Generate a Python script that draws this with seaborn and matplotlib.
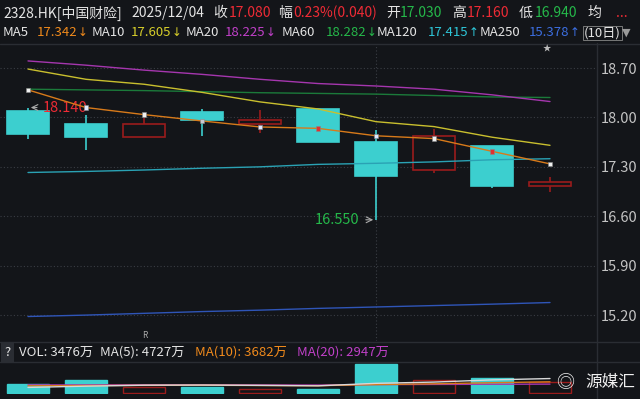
import seaborn as sns
import matplotlib.pyplot as plt
import pandas as pd

# daily candles, 10 days
days = list(range(10))
opens = [18.09, 17.90, 17.72, 18.07, 17.90, 18.115, 17.656, 17.255, 17.60, 17.03]
highs = [18.14, 18.03, 17.99, 18.115, 18.10, 18.12, 17.82, 17.83, 17.60, 17.16]
lows = [17.69, 17.54, 17.72, 17.73, 17.775, 17.65, 16.55, 17.21, 16.995, 16.94]
closes = [17.765, 17.72, 17.91, 17.96, 17.96, 17.656, 17.17, 17.74, 17.03, 17.08]

ma5 = [18.39, 18.14, 18.04, 17.95, 17.865, 17.845, 17.74, 17.70, 17.52, 17.342]
ma10 = [18.685, 18.54, 18.47, 18.355, 18.22, 18.12, 17.94, 17.87, 17.72, 17.605]
ma20 = [18.80, 18.74, 18.67, 18.61, 18.54, 18.48, 18.445, 18.40, 18.32, 18.225]
ma60 = [18.40, 18.39, 18.38, 18.365, 18.35, 18.34, 18.33, 18.31, 18.29, 18.282]
ma120 = [17.22, 17.235, 17.255, 17.28, 17.30, 17.335, 17.35, 17.37, 17.40, 17.415]
ma250 = [15.18, 15.20, 15.225, 15.25, 15.27, 15.295, 15.315, 15.335, 15.355, 15.378]
marker_cols = ["#f0f0f0", "#dfe8ff", "#f0f0f0", "#c8c8d0", "#dfe8ff",
               "#e03030", "#dfe8ff", "#f0f0f0", "#e03030", "#f0f0f0"]

# volume in 万
volume = [2940, 4300, 2000, 2000, 1360, 1500, 9500, 4200, 4800, 3476]
vol_ma5 = [1900, 2300, 2600, 2650, 2550, 2400, 3200, 3600, 4300, 4727]
vol_ma10 = [2400, 2500, 2550, 2600, 2500, 2450, 2800, 3050, 3400, 3682]
vol_ma20 = [2700, 2700, 2750, 2750, 2700, 2650, 2800, 2850, 2900, 2947]

price_ticks = [18.70, 18.00, 17.30, 16.60, 15.90, 15.20]

bg = "#131519"
cyan = "#3ccfcf"
dred = "#9a1c1c"
red = "#ee2b35"
green = "#25b84a"
white = "#e4e4e4"
grid = "#3a3d44"
sep = "#2a2d33"

sns.set_style("dark", {"axes.facecolor": bg, "figure.facecolor": bg})
plt.rcParams['font.family'] = ['Noto Sans CJK SC', 'DejaVu Sans']

fig = plt.figure(figsize=(6.4, 3.99), dpi=100, facecolor=bg)
W, H = 640, 399


def box(x0, y0, x1, y1):
    return [x0 / W, 1 - y1 / H, (x1 - x0) / W, (y1 - y0) / H]


def txt(x, y, s, color=white, size=10, **kw):
    fig.text(x / W, 1 - y / H, s, color=color, fontsize=size,
             va='center', ha='left', **kw)


ax = fig.add_axes(box(0, 45, 597, 341))
ax.set_facecolor(bg)
ax.set_xlim(-28 / 58, (597 - 28) / 58)
ax.set_ylim(18.70 - (341 - 68) / 70.6, 18.70 + (68 - 45) / 70.6)

# grid
for t in price_ticks:
    ax.axhline(t, color=grid, lw=0.8, ls=(0, (1, 2)), zorder=0)
ax.axvline(6, color=grid, lw=0.8, ls=(0, (1, 2)), zorder=0)

# candles
bw = 0.74
for i in days:
    o, h, l, c = opens[i], highs[i], lows[i], closes[i]
    up = c >= o
    col = dred if up else cyan
    top, bot = max(o, c), min(o, c)
    ax.vlines(i, top, h, color=col, lw=1.2, zorder=2)
    ax.vlines(i, l, bot, color=col, lw=1.2, zorder=2)
    ax.bar(i, max(top - bot, 0.02), bottom=bot, width=bw,
           facecolor=bg if up else cyan, edgecolor=col, lw=1.2, zorder=3)

# moving averages
for vals, col in [(ma250, "#2f55b8"), (ma120, "#2aa2b4"), (ma60, "#1b7a3a"),
                  (ma20, "#a536ae"), (ma10, "#c9bf2e"), (ma5, "#d87a1a")]:
    sns.lineplot(x=days, y=vals, color=col, lw=1.0, ax=ax, zorder=4)
ax.scatter(days, ma5, marker='s', s=10, c=marker_cols, edgecolors='#888888',
           linewidths=0.4, zorder=5)

# hi / lo annotations
ax.annotate("18.140", xy=(0.0, 18.14), xytext=(0.26, 18.14), color=red,
            fontsize=10.5, va='center', ha='left',
            arrowprops=dict(arrowstyle='->', color='#aaaaaa', lw=0.8))
ax.annotate("16.550", xy=(6, 16.55), xytext=(5.72, 16.55), color=green,
            fontsize=10.5, va='center', ha='right',
            arrowprops=dict(arrowstyle='->', color='#aaaaaa', lw=0.8))

ax.yaxis.tick_right()
ax.set_yticks(price_ticks)
ax.set_yticklabels([f"{t:.2f}" for t in price_ticks], color="#c4c4c4",
                   fontsize=10.5)
ax.tick_params(axis='y', length=0, pad=3)
ax.set_xticks([])
ax.set_xlabel("")
ax.set_ylabel("")
for s in ax.spines.values():
    s.set_visible(False)

# volume pane
vax = fig.add_axes(box(0, 362, 597, 394))
vax.set_facecolor(bg)
vax.set_xlim(-28 / 58, (597 - 28) / 58)
vax.set_ylim(-200, 10000)
for i in days:
    up = closes[i] >= opens[i]
    vax.bar(i, volume[i], width=bw, facecolor=bg if up else cyan,
            edgecolor=dred if up else cyan, lw=1.0, zorder=2)
for vals, col in [(vol_ma20, "#a536ae"), (vol_ma10, "#d87a1a"),
                  (vol_ma5, "#d8d8d8")]:
    sns.lineplot(x=days, y=vals, color=col, lw=1.0, ax=vax, zorder=3)
vax.set_xticks([])
vax.set_yticks([])
vax.set_xlabel("")
vax.set_ylabel("")
for s in vax.spines.values():
    s.set_visible(False)

# frame lines
for y in [44, 341.7, 362.3]:
    fig.add_artist(plt.Line2D([0, 1], [1 - y / H] * 2, color=sep, lw=1))
fig.add_artist(plt.Line2D([597 / W] * 2, [0, 1 - 43 / H], color=sep, lw=1))

# header row 1
txt(3, 13, "2328.HK[中国财险]")
txt(131, 13, "2025/12/04")
txt(213, 13, "收")
txt(229, 13, "17.080", red)
txt(278, 13, "幅")
txt(293, 13, "0.23%(0.040)", red)
txt(386, 13, "开")
txt(400, 13, "17.030", green)
txt(452, 13, "高")
txt(467, 13, "17.160", red)
txt(519, 13, "低")
txt(535, 13, "16.940", green)
txt(587, 13, "均")
txt(616, 13, "...", red)

# header row 2: name, value, arrow
row2 = [(3, "MA5", 37, "17.342", "↓", "#f08a1c"),
        (92, "MA10", 131, "17.605", "↓", "#d8cf2a"),
        (186, "MA20", 225, "18.225", "↓", "#c040c8"),
        (282, "MA60", 326, "18.282", "↓", green),
        (377, "MA120", 428, "17.415", "↑", "#2ec6d8"),
        (480, "MA250", 529, "15.378", "↑", "#3c6ee0")]
for nx, name, vx, val, arr, col in row2:
    txt(nx, 33, name, size=9.5)
    txt(vx, 33, val, col, size=9.5)
    fig.text((vx + 41) / W, 1 - 33 / H, arr, color=col, fontsize=8.5,
             va='center', ha='left', family='DejaVu Sans')
txt(584, 33, "(10日)", size=9.5,
    bbox=dict(boxstyle='square,pad=0.05', fc='none', ec='#888888', lw=0.6))
txt(622, 33, "▼", "#9a9a9a", size=8, family='DejaVu Sans')

txt(543, 49, "★", "#bbbbbb", size=6)
txt(142, 336, "R", "#aaaaaa", size=6)

# volume header
txt(4, 352, "?", size=9.5,
    bbox=dict(boxstyle='square,pad=0.25', fc='#2a2d33', ec='none'))
txt(19, 352, "VOL: 3476万", size=9.5)
txt(100, 352, "MA(5): 4727万", size=9.5)
txt(195, 352, "MA(10): 3682万", "#f08a1c", size=9.5)
txt(297, 352, "MA(20): 2947万", "#c040c8", size=9.5)

# watermark
txt(556, 383, "◎", "#f0f0f0", size=13)
txt(585, 383, "源媒汇", "#f0f0f0", size=12)

fig.savefig("out.png", dpi=100, facecolor=bg)
